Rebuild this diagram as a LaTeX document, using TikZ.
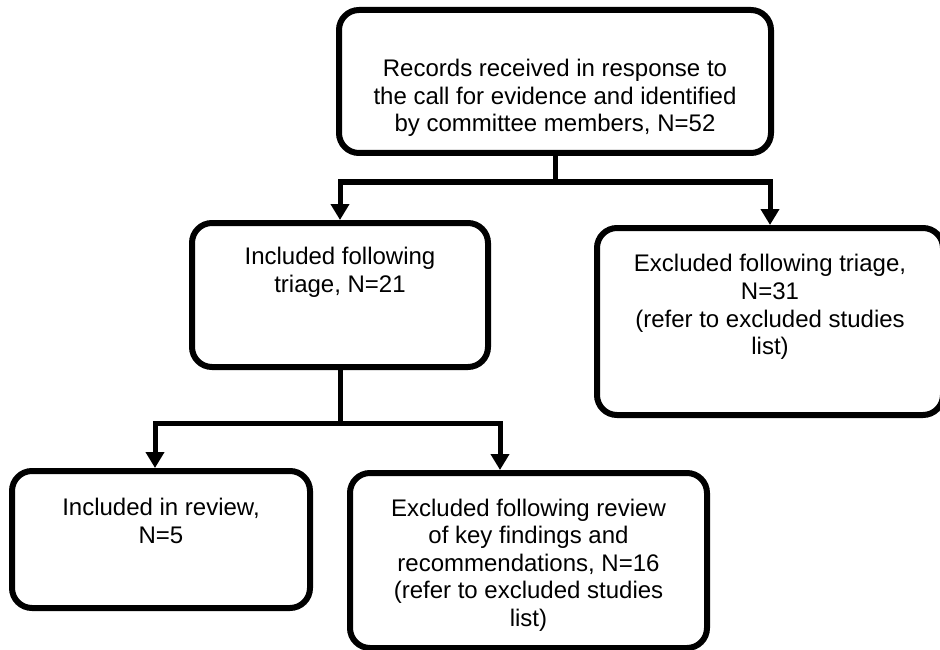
\documentclass[tikz,border=0pt]{standalone}
\usepackage{fontspec}
\setmainfont{Liberation Sans}
\usetikzlibrary{arrows.meta}

\begin{document}
\begin{tikzpicture}[x=1pt, y=-1pt,
    box/.style={draw, line width=6pt, rounded corners=20pt, fill=white},
    txt/.style={align=center, font=\fontsize{24}{27.6}\selectfont, text=black},
    link/.style={line width=5pt},
    arr/.style={line width=5pt, -{Triangle[length=16pt, width=18pt]}}]

    \useasboundingbox (0,0) rectangle (940,650);

    % Define box centres
    \coordinate (P0) at (555,81.5);   % records
    \coordinate (P1) at (340,295);    % included after triage
    \coordinate (P2) at (770,321.5);  % excluded after triage
    \coordinate (P3) at (161,539.5);  % included in review
    \coordinate (P4) at (528.5,560.5);% excluded after review

    % Draw boxes with their texts
    \node[box, minimum width=432pt, minimum height=143pt,
        label={[txt, yshift=-16.5pt]center:{Records received in response to\\the call for evidence and identified\\by committee members, N=52}}] (rec) at (P0) {};
    \node[box, minimum width=296pt, minimum height=144pt,
        label={[txt, yshift=23pt]center:{Included following\\triage, N=21}}] (incl) at (P1) {};
    \node[box, minimum width=346pt, minimum height=187pt,
        label={[txt, yshift=14.5pt]center:{Excluded following triage,\\N=31\\(refer to excluded studies\\list)}}] (excl) at (P2) {};
    \node[box, minimum width=298pt, minimum height=137pt,
        label={[txt, yshift=18.5pt]center:{Included in review,\\N=5}}] (rev) at (P3) {};
    \node[box, minimum width=357pt, minimum height=175pt,
        label={[txt, yshift=-4.5pt]center:{Excluded following review\\of key findings and\\recommendations, N=16\\(refer to excluded studies\\list)}}] (exrev) at (P4) {};

    % Split points
    \coordinate (S1) at ([yshift=-26pt]rec.south);
    \coordinate (S2) at ([yshift=-53pt]incl.south);

    % Draw connectors
    \draw[link] (rec.south) -- (S1);
    \draw[arr] (S1) -| (incl.north);
    \draw[arr] (S1) -| (excl.north);
    \draw[link] (incl.south) -- (S2);
    \draw[arr] (S2) -| ([xshift=-6pt]rev.north);
    \draw[arr] (S2) -| ([xshift=-28.5pt]exrev.north);

\end{tikzpicture}
\end{document}
